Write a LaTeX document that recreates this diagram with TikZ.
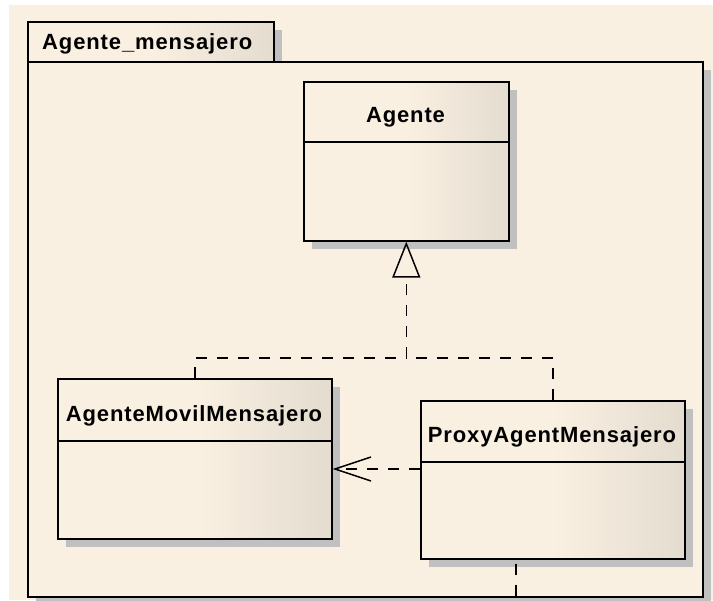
\documentclass[tikz,border=0pt]{standalone}
\usepackage{fontspec}
\setmainfont{Liberation Sans}
\newfontfamily\umlsans{Liberation Sans}[LetterSpace=4]
\usetikzlibrary{arrows.meta,shadows}

\definecolor{paper}{RGB}{250,240,226}
\definecolor{tan}{RGB}{227,220,207}
\definecolor{shadowgray}{RGB}{192,192,192}

\begin{document}
\begin{tikzpicture}[x=1pt,y=-1pt,
  umltitle/.style={font=\umlsans\bfseries\fontsize{22}{26}\selectfont, inner sep=0pt},
  boxshadow/.style={drop shadow={shadow xshift=8pt,shadow yshift=-8pt,opacity=1,fill=shadowgray}},
  classbox/.style={draw, line width=1.6pt, anchor=north west, inner sep=0pt,
    left color=paper, right color=tan, middle color=paper, boxshadow},
  pkgbody/.style={draw, line width=1.6pt, anchor=north west, inner sep=0pt,
    fill=paper, boxshadow},
  divider/.style={line width=1.6pt},
  dashline/.style={line width=1.5pt, dash pattern=on 11pt off 10pt},
]
% canvas
\useasboundingbox (0,0) rectangle (713,601);
\fill[white] (0,0) rectangle (713,601);
\fill[paper] (9,5) rectangle (713,600);

% package frame
\node[classbox, minimum width=246pt, minimum height=40pt] (pkgtab) at (27,21) {};
\node[pkgbody, minimum width=675pt, minimum height=535pt] (pkg) at (27,61) {};
\node[umltitle, anchor=base west] (pkgname) at (42,50) {Agente\_mensajero};

% classes
\node[classbox, minimum width=205pt, minimum height=159pt] (agente) at (303,81) {};
\draw[divider] ([yshift=-61pt]agente.north west) -- ([yshift=-61pt]agente.north east);
\node[umltitle, anchor=base] (agente-name) at (405.5,123) {Agente};

\node[classbox, minimum width=274pt, minimum height=160pt] (movil) at (57,378) {};
\draw[divider] ([yshift=-63pt]movil.north west) -- ([yshift=-63pt]movil.north east);
\node[umltitle, anchor=base] (movil-name) at (194,422) {AgenteMovilMensajero};

\node[classbox, minimum width=264pt, minimum height=158pt] (proxy) at (420,400) {};
\draw[divider] ([yshift=-62pt]proxy.north west) -- ([yshift=-62pt]proxy.north east);
\node[umltitle, anchor=base] (proxy-name) at (552,443) {ProxyAgentMensajero};

% connectors
\coordinate (bus) at (0,358);
\coordinate (depy) at (0,469);
\coordinate (exit) at (516,0);

\draw[dashline, -{Triangle[open,length=36pt,width=28pt,line width=1.5pt]}]
  (movil.north) |- (agente.south |- bus) -- (agente.south);
\draw[dashline] (proxy.north) |- (agente.south |- bus);

\draw[dashline, -{Straight Barb[length=36pt,width=24pt,line width=1.5pt]}]
  (proxy.west |- depy) -- (movil.east |- depy);

\draw[dashline, shorten <=4pt] (proxy.south -| exit) -- (pkg.south -| exit);
\end{tikzpicture}
\end{document}
